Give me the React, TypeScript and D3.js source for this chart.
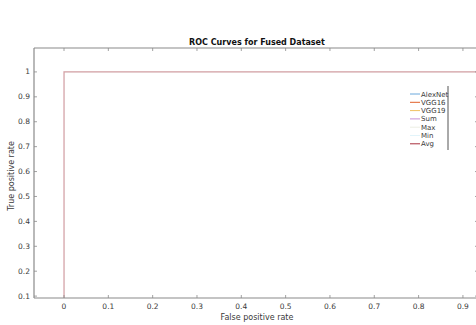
import React from "react";
import * as d3 from "d3";

// ROC data for each model (all reach a perfect classifier)
const seriesNames = ["AlexNet", "VGG16", "VGG19", "Sum", "Max", "Min", "Avg"];
const seriesColors = ["#6aa8dc", "#e0602a", "#f0c060", "#c890d4", "#eceee4", "#e2f4fa", "#a8303e"];
const fprValues = [0, 0, 1];
const tprValues = [0, 1, 1];
const xTicks = [0, 0.1, 0.2, 0.3, 0.4, 0.5, 0.6, 0.7, 0.8, 0.9];
const yTicks = [0.1, 0.2, 0.3, 0.4, 0.5, 0.6, 0.7, 0.8, 0.9, 1];

const W = 476;
const H = 325;
const left = 34;
const right = 478;
const top = 48;
const bottom = 298;

export default function App() {
  const x = d3.scaleLinear().domain([-0.0677, 0.934]).range([left, right]);
  const y = d3.scaleLinear().domain([0.0924, 1.096]).range([bottom, top]);
  const pts = fprValues.map((f, i) => [f, tprValues[i]] as [number, number]);
  const line = d3
    .line<[number, number]>()
    .x((d) => x(d[0]))
    .y((d) => y(d[1]));
  const font = "DejaVu Sans, sans-serif";
  const axisCol = "#8a8a8a";
  const tickCol = "#3a3a3a";

  return (
    <svg
      width={W}
      height={H}
      style={{ position: "absolute", left: 0, top: 0, background: "#fff" }}
      fontFamily={font}
    >
      <defs>
        <clipPath id="plotArea">
          <rect x={left} y={top} width={right - left} height={bottom - top} />
        </clipPath>
      </defs>
      <rect x={0} y={0} width={W} height={H} fill="#fff" />
      {/* curves */}
      <g clipPath="url(#plotArea)">
        {seriesNames.map((name, i) => (
          <path
            key={name}
            d={line(pts) || ""}
            fill="none"
            stroke={seriesColors[i]}
            strokeWidth={1.2}
            strokeOpacity={i === seriesNames.length - 1 ? 0.42 : 0.04}
          />
        ))}
      </g>
      {/* axes box */}
      <line x1={left} y1={top} x2={right} y2={top} stroke={axisCol} strokeWidth={1.2} />
      <line x1={left} y1={bottom} x2={right} y2={bottom} stroke={axisCol} strokeWidth={1.2} />
      <line x1={left} y1={top} x2={left} y2={bottom} stroke={axisCol} strokeWidth={1.2} />
      <line x1={right} y1={top} x2={right} y2={bottom} stroke={axisCol} strokeWidth={1.2} />
      {xTicks.map((t) => (
        <g key={"x" + t}>
          <line x1={x(t)} x2={x(t)} y1={bottom} y2={bottom - 3} stroke={axisCol} strokeWidth={0.8} />
          <line x1={x(t)} x2={x(t)} y1={top} y2={top + 3} stroke={axisCol} strokeWidth={0.8} />
          <text x={x(t)} y={bottom + 11} fontSize={7.5} fill={tickCol} textAnchor="middle">
            {String(t)}
          </text>
        </g>
      ))}
      {yTicks.map((t) => (
        <g key={"y" + t}>
          <line x1={left} x2={left + 3} y1={y(t)} y2={y(t)} stroke={axisCol} strokeWidth={0.8} />
          <line x1={right} x2={right - 3} y1={y(t)} y2={y(t)} stroke={axisCol} strokeWidth={0.8} />
          <text x={left - 4} y={y(t) + 2.5} fontSize={7.5} fill={tickCol} textAnchor="end">
            {String(t)}
          </text>
        </g>
      ))}
      {/* titles */}
      <text x={257} y={45} fontSize={8} fontWeight="bold" fill="#111" textAnchor="middle">
        ROC Curves for Fused Dataset
      </text>
      <text x={257} y={320} fontSize={8} fill={tickCol} textAnchor="middle">
        False positive rate
      </text>
      <text
        transform="translate(14,176) rotate(-90)"
        fontSize={8}
        fill={tickCol}
        textAnchor="middle"
      >
        True positive rate
      </text>
      {/* legend */}
      <line x1={448} x2={448} y1={86} y2={150} stroke="#555" strokeWidth={1} />
      {seriesNames.map((name, i) => (
        <g key={"lg" + name} transform={`translate(0,${94 + i * 8.3})`}>
          <line x1={410} x2={420} y1={0} y2={0} stroke={seriesColors[i]} strokeWidth={1} />
          <text x={421} y={2.5} fontSize={7} fill={tickCol}>
            {name}
          </text>
        </g>
      ))}
    </svg>
  );
}
